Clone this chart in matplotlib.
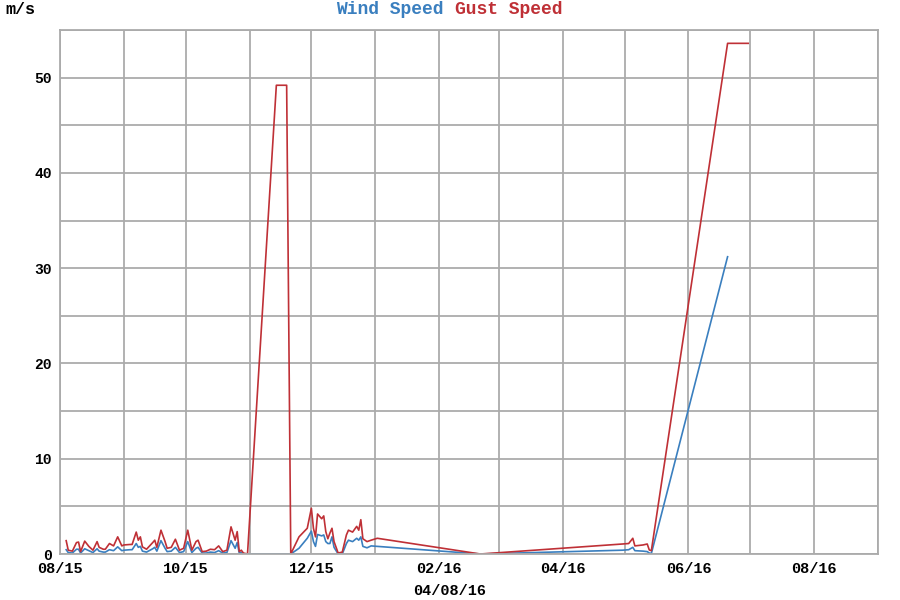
import pandas as pd
import numpy as np
import matplotlib
matplotlib.use('Agg')
import matplotlib.pyplot as plt
from matplotlib.dates import MonthLocator, DateFormatter
from matplotlib.ticker import MultipleLocator

# readings (m/s), one row per logged sample
dates = [
    '2015-08-04', '2015-08-05', '2015-08-07', '2015-08-09', '2015-08-10', '2015-08-11',
    '2015-08-13', '2015-08-15', '2015-08-17', '2015-08-19', '2015-08-20', '2015-08-22',
    '2015-08-23', '2015-08-25', '2015-08-27', '2015-08-29', '2015-08-31', '2015-09-01',
    '2015-09-04', '2015-09-05', '2015-09-07', '2015-09-08', '2015-09-09', '2015-09-10',
    '2015-09-12', '2015-09-15', '2015-09-16', '2015-09-17', '2015-09-19', '2015-09-21',
    '2015-09-22', '2015-09-24', '2015-09-26', '2015-09-28', '2015-09-30', '2015-10-02',
    '2015-10-04', '2015-10-06', '2015-10-07', '2015-10-09', '2015-10-11', '2015-10-13',
    '2015-10-15', '2015-10-17', '2015-10-19', '2015-10-21', '2015-10-23', '2015-10-25',
    '2015-10-26', '2015-10-27', '2015-10-28', '2015-10-29', '2015-10-31', '2015-11-14',
    '2015-11-19', '2015-11-21', '2015-11-25', '2015-11-29', '2015-12-01', '2015-12-02',
    '2015-12-03', '2015-12-04', '2015-12-06', '2015-12-07', '2015-12-08', '2015-12-09',
    '2015-12-10', '2015-12-11', '2015-12-12', '2015-12-14', '2015-12-16', '2015-12-18',
    '2015-12-19', '2015-12-21', '2015-12-23', '2015-12-24', '2015-12-25', '2015-12-26',
    '2015-12-28', '2015-12-30', '2016-01-02', '2016-02-21', '2016-04-30', '2016-05-03',
    '2016-05-05', '2016-05-06', '2016-05-10', '2016-05-12', '2016-05-13', '2016-05-14',
    '2016-06-20', '2016-06-30',
]

wind_speed = [
    0.45, 0.15, 0.1, 0.5, 0.5, 0.1,
    0.55, 0.35, 0.15, 0.55, 0.3, 0.2,
    0.2, 0.45, 0.35, 0.75, 0.35, 0.4,
    0.45, 0.45, 1.1, 0.7, 0.8, 0.3,
    0.2, 0.55, 0.7, 0.3, 1.4, 0.6,
    0.25, 0.3, 0.7, 0.15, 0.25, 1.3,
    0.15, 0.6, 0.7, 0.1, 0.1, 0.2,
    0.15, 0.35, 0.1, 0.15, 1.4, 0.6,
    1.2, 0.1, 0.15, 0.0, 0.0, 0.0,
    0.0, 0.0, 0.6, 1.65, 2.4, 1.3,
    0.8, 2.05, 1.9, 2.0, 1.3, 1.1,
    1.1, 1.8, 0.7, 0.0, 0.0, 1.1,
    1.45, 1.3, 1.65, 1.45, 1.8, 0.8,
    0.65, 0.85, 0.8, 0.0, 0.4, 0.45,
    0.7, 0.35, 0.3, 0.25, 0.1, 0.05,
    31.2, np.nan,
]

gust_speed = [
    1.4, 0.4, 0.3, 1.2, 1.25, 0.25,
    1.35, 0.8, 0.4, 1.3, 0.7, 0.5,
    0.5, 1.1, 0.85, 1.8, 0.85, 0.95,
    1.0, 1.0, 2.3, 1.45, 1.8, 0.75,
    0.5, 1.2, 1.45, 0.7, 2.5, 1.3,
    0.6, 0.7, 1.55, 0.4, 0.6, 2.5,
    0.4, 1.3, 1.45, 0.25, 0.3, 0.5,
    0.45, 0.85, 0.25, 0.4, 2.85, 1.45,
    2.35, 0.25, 0.4, 0.1, 0.0, 49.2,
    49.2, 0.0, 1.8, 2.7, 4.8, 2.7,
    1.8, 4.2, 3.7, 4.0, 2.35, 1.6,
    2.2, 2.7, 1.3, 0.1, 0.2, 2.0,
    2.5, 2.3, 2.9, 2.5, 3.6, 1.6,
    1.3, 1.45, 1.65, 0.0, 1.05, 1.1,
    1.65, 0.85, 0.95, 1.05, 0.42, 0.35,
    53.6, 53.6,
]

df = pd.DataFrame({'Date': pd.to_datetime(dates), 'Wind': wind_speed, 'Gust': gust_speed})

wind_col = '#3a7fbf'
gust_col = '#bf3036'
grid_col = '#ababab'
mono = ['Liberation Mono', 'DejaVu Sans Mono']

fig = plt.figure(figsize=(9, 6), dpi=100)
ax = fig.add_axes([60 / 900, 46 / 600, 818 / 900, 524 / 600])

ax.plot(df['Date'], df['Wind'], color=wind_col, linewidth=1.2)
ax.plot(df['Date'], df['Gust'], color=gust_col, linewidth=1.2)

ax.set_xlim(pd.Timestamp('2015-08-01'), pd.Timestamp('2016-09-01'))
ax.set_ylim(0, 55)

# labels every other month, grid every month
ax.xaxis.set_major_locator(MonthLocator(bymonth=[2, 4, 6, 8, 10, 12]))
ax.xaxis.set_minor_locator(MonthLocator())
ax.xaxis.set_major_formatter(DateFormatter('%m/%y'))
ax.yaxis.set_major_locator(MultipleLocator(10))
ax.yaxis.set_minor_locator(MultipleLocator(5))

ax.grid(True, which='both', color=grid_col, linewidth=1.3)
ax.set_axisbelow(True)
for s in ax.spines.values():
    s.set_color(grid_col)
    s.set_linewidth(1.3)

ax.tick_params(which='both', length=0)
ax.tick_params(axis='x', pad=5.5)
ax.tick_params(axis='y', pad=6)
for lbl in ax.get_xticklabels() + ax.get_yticklabels():
    lbl.set_family(mono)
    lbl.set_fontweight('bold')
    lbl.set_fontsize(11)
for lbl in ax.get_yticklabels():
    lbl.set_fontsize(10.5)

# date the chart was made, under the axis
fig.text(450 / 900, 1 - 591 / 600, '04/08/16', family=mono, fontweight='bold', fontsize=11,
         ha='center', va='center')

fig.text(5 / 900, 1 - 10 / 600, 'm/s', family=mono, fontweight='bold', fontsize=12,
         ha='left', va='center')
fig.text(444 / 900, 1 - 10 / 600, 'Wind Speed', family=mono, fontweight='bold', fontsize=13,
         color=wind_col, ha='right', va='center')
fig.text(455 / 900, 1 - 10 / 600, 'Gust Speed', family=mono, fontweight='bold', fontsize=13,
         color=gust_col, ha='left', va='center')

fig.savefig('out.png', dpi=100)
